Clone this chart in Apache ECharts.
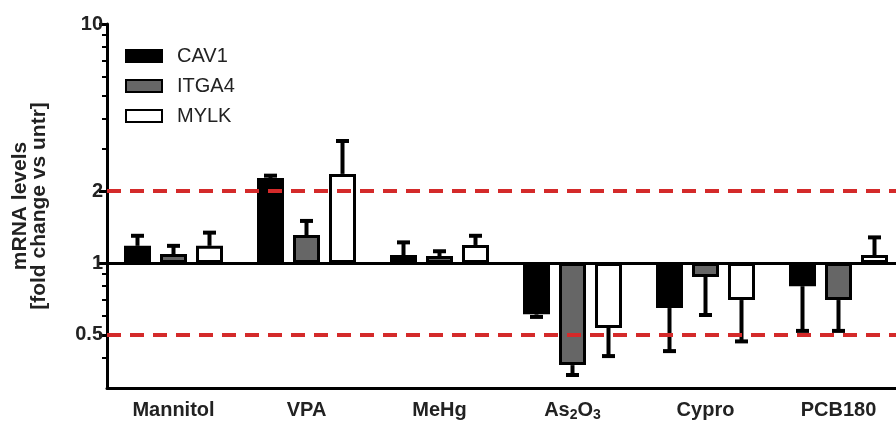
<!DOCTYPE html>
<html>
<head>
<meta charset="utf-8">
<script src="https://cdn.jsdelivr.net/npm/echarts@6/dist/echarts.min.js"></script>
<style>html,body{margin:0;padding:0;background:#fff}#c{width:896px;height:421px}</style>
</head>
<body>
<div id="c"></div>
<script>
// ---- data ----
const categories = ['Mannitol', 'VPA', 'MeHg', 'As2O3', 'Cypro', 'PCB180'];
const seriesNames = ['CAV1', 'ITGA4', 'MYLK'];
const cav1 = [1.18, 2.27, 1.08, 0.61, 0.648, 0.80];
const cav1ErrEnd = [1.30, 2.32, 1.22, 0.595, 0.428, 0.52];
const itga4 = [1.09, 1.31, 1.07, 0.374, 0.874, 0.70];
const itga4ErrEnd = [1.18, 1.50, 1.12, 0.34, 0.606, 0.52];
const mylk = [1.18, 2.36, 1.19, 0.535, 0.70, 1.08];
const mylkErrEnd = [1.34, 3.24, 1.30, 0.408, 0.47, 1.28];
const majorTicks = [0.5, 1, 2, 10];
const minorTicks = [0.4, 0.6, 0.7, 0.8, 0.9, 3, 4, 5, 6, 7, 8, 9];
const thresholds = [2, 0.5];
const baseline = 1;

// ---- styles ----
const FONT = 'Liberation Sans, Arial, sans-serif';
const BAR_W = 27;
const BAR_GAP = 1 / 3;
const fills = ['#000000', '#666666', '#ffffff'];
const means = [cav1, itga4, mylk];
const ends = [cav1ErrEnd, itga4ErrEnd, mylkErrEnd];

const chart = echarts.init(document.getElementById('c'));

const barSeries = seriesNames.map((n, k) => ({
  name: n,
  type: 'bar',
  xAxisIndex: 0,
  yAxisIndex: 0,
  barWidth: BAR_W,
  barGap: (BAR_GAP * 100) + '%',
  data: means[k],
  itemStyle: { color: fills[k], borderColor: '#000', borderWidth: 3 },
  z: 3
}));

const errSeries = seriesNames.map((n, k) => ({
  type: 'custom',
  xAxisIndex: 0,
  yAxisIndex: 0,
  z: 2,
  silent: true,
  data: means[k].map((v, i) => [i, v, ends[k][i]]),
  renderItem: function (params, api) {
    const i = api.value(0);
    const p0 = api.coord([i, api.value(1)]);
    const p1 = api.coord([i, api.value(2)]);
    const x = p0[0] + (k - 1) * BAR_W * (1 + BAR_GAP);
    return {
      type: 'group',
      children: [
        { type: 'line', shape: { x1: x, y1: p0[1], x2: x, y2: p1[1] }, style: { stroke: '#000', lineWidth: 4 } },
        { type: 'line', shape: { x1: x - 6.5, y1: p1[1], x2: x + 6.5, y2: p1[1] }, style: { stroke: '#000', lineWidth: 4 } }
      ]
    };
  }
}));

const refSeries = {
  type: 'line',
  data: [],
  z: 6,
  silent: true,
  markLine: {
    silent: true,
    symbol: 'none',
    label: { show: false },
    animation: false,
    data: [
      { yAxis: baseline, lineStyle: { color: '#000', width: 3, type: 'solid' } },
      ...thresholds.map(t => ({ yAxis: t, lineStyle: { color: '#d42a2a', width: 4, type: [14, 9] } }))
    ]
  }
};

chart.setOption({
  animation: false,
  backgroundColor: '#fff',
  grid: { left: 107, right: -9, top: 24, bottom: 33, containLabel: false, outerBoundsMode: 'none' },
  legend: {
    orient: 'vertical',
    left: 120,
    top: 40,
    itemWidth: 36,
    itemHeight: 12,
    itemGap: 8,
    icon: 'rect',
    data: seriesNames,
    textStyle: { fontFamily: FONT, fontSize: 20, color: '#222', lineHeight: 22, padding: [0, 0, 0, 10] }
  },
  xAxis: {
    type: 'category',
    data: categories,
    axisLine: { onZero: false, lineStyle: { color: '#000', width: 3 } },
    axisTick: { alignWithLabel: true, length: 8, lineStyle: { color: '#000', width: 3 } },
    axisLabel: {
      interval: 0,
      margin: 12,
      fontFamily: FONT,
      fontWeight: 'bold',
      fontSize: 20,
      color: '#222',
      formatter: v => v === 'As2O3' ? '{a|As}{s|2}{a|O}{s|3}' : v,
      rich: {
        a: { fontFamily: FONT, fontWeight: 'bold', fontSize: 20, color: '#222', lineHeight: 22, verticalAlign: 'top' },
        s: { fontFamily: FONT, fontWeight: 'bold', fontSize: 14, color: '#222', lineHeight: 16, verticalAlign: 'top', padding: [8, 0, 0, 0] }
      }
    },
    splitLine: { show: false }
  },
  yAxis: [
    {
      type: 'log',
      logBase: 10,
      min: 0.3,
      max: 10,
      name: 'mRNA levels\n[fold change vs untr]',
      nameLocation: 'middle',
      nameRotate: 90,
      nameGap: 58,
      nameTextStyle: { fontFamily: FONT, fontWeight: 'bold', fontSize: 21, color: '#222', lineHeight: 19 },
      axisLine: { show: true, lineStyle: { color: '#000', width: 3 } },
      axisTick: { show: true, length: 8, lineStyle: { color: '#000', width: 3 }, customValues: majorTicks },
      axisLabel: { fontFamily: FONT, fontWeight: 'bold', fontSize: 20, color: '#222', margin: 4, customValues: majorTicks },
      splitLine: { show: false }
    },
    {
      type: 'log',
      logBase: 10,
      min: 0.3,
      max: 10,
      position: 'left',
      axisLine: { show: false },
      axisTick: { show: true, length: 5, lineStyle: { color: '#000', width: 2 }, customValues: minorTicks },
      axisLabel: { show: false },
      splitLine: { show: false }
    }
  ],
  series: [...errSeries, ...barSeries, refSeries]
});
</script>
</body>
</html>
